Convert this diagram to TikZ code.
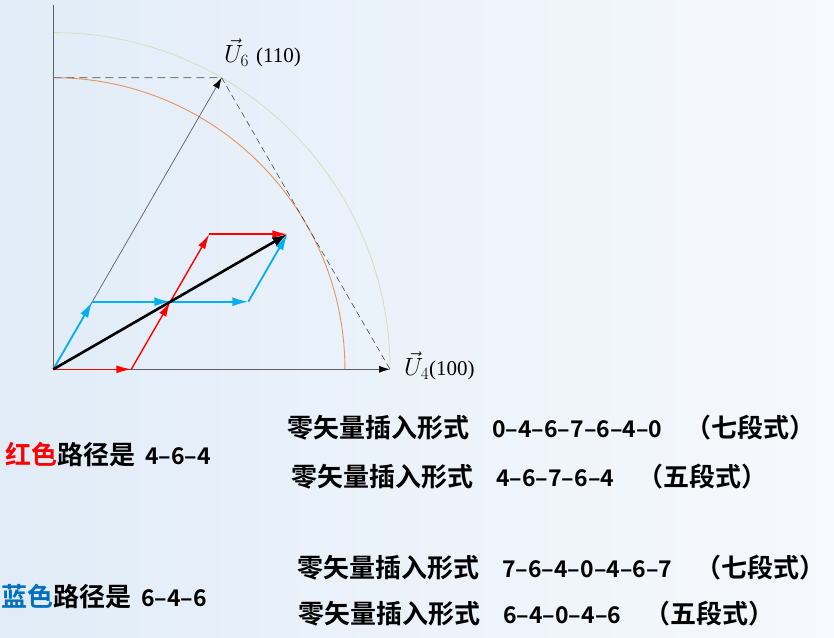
\documentclass[tikz,border=0pt]{standalone}
\usepackage{amsmath}
\usepackage{fontspec}
\usepackage{xcolor}
\usepackage{tikz}
\usetikzlibrary{arrows.meta}
\usetikzlibrary{positioning}
\newfontfamily\cjk{Noto Sans CJK SC Bold}
\newfontfamily\labfont{Liberation Serif}
\definecolor{vecred}{RGB}{255,0,0}
\definecolor{vecblue}{RGB}{0,176,240}
\definecolor{txtblue}{RGB}{0,112,192}
\definecolor{arcorange}{RGB}{230,148,95}
\definecolor{arcpale}{RGB}{214,222,190}
\definecolor{axisgray}{RGB}{95,95,95}
\definecolor{bgblue}{RGB}{225,236,248}
\definecolor{bgwhite}{RGB}{246,249,253}
\tikzstyle{redvec} = [draw=vecred,line width=1.4pt,-{Latex[length=15pt,width=8pt]}]
\tikzstyle{bluevec} = [draw=vecblue,line width=1.8pt,-{Latex[length=16pt,width=9pt]}]
\tikzstyle{sumvec} = [draw=black,line width=2.6pt,-{Latex[length=15pt,width=10pt]}]
\tikzstyle{basevec} = [draw=axisgray,line width=0.7pt,-{Latex[length=11pt,width=7pt,color=black]}]
\tikzstyle{txt} = [anchor=west,inner sep=0pt,font=\cjk\fontsize{26}{30}\selectfont]
\tikzstyle{veclab} = [anchor=base west,inner sep=0pt,font=\fontsize{23}{26}\selectfont]
\newcommand{\num}[1]{{\fontsize{23}{26}\selectfont #1}}
\newcommand{\code}[1]{{\labfont\fontsize{21}{24}\selectfont #1}}

\begin{document}
\begin{tikzpicture}[x=1pt,y=1pt]
% 背景
\shade[left color=bgblue,right color=bgwhite] (0,0) rectangle (834,637);
\useasboundingbox (0,0) rectangle (834,637);
% 基本矢量
\coordinate (O) at (53.3,267.7);
\path (O) ++(0:336.7) coordinate (U4);
\path (O) ++(60:336.7) coordinate (U6);
\path (O) ++(90:364.3) coordinate (ytop);
\path (O) ++(90:291.6) coordinate (yin);
% 合成路径上的点
\path (O) ++(0:78) coordinate (R1) ++(60:78) coordinate (M)
  ++(60:78) coordinate (R2) ++(0:78) coordinate (T);
\path (O) ++(60:78) coordinate (B1) ++(0:156) coordinate (B2);
% 圆弧
\draw[arcpale,line width=0.8pt] (U4) arc[start angle=0,end angle=90,radius=336.7];
\draw[arcorange,line width=0.9pt] (O) ++(0:291.6) arc[start angle=0,end angle=90,radius=291.6];
% 坐标轴
\draw[axisgray,line width=0.8pt] (O) -- (ytop);
\draw[basevec] (O) -- (U4);
\draw[basevec] (O) -- (U6);
\draw[gray,line width=1pt,dash pattern=on 8pt off 5pt] (yin) -- (U6);
\draw[black!80,line width=0.5pt,dash pattern=on 6pt off 4pt] (U6) -- (U4);
% 蓝色路径
\draw[bluevec] (O) -- (B1);
\draw[bluevec] (B1) -- (M);
\draw[bluevec] (M) -- (B2);
\draw[bluevec] (B2) -- (T);
% 红色路径
\draw[redvec] (O) -- (R1);
\draw[redvec] (R1) -- (M);
\draw[redvec] (M) -- (R2);
\draw[redvec] (R2) -- (T);
% 合成矢量
\draw[sumvec] (O) -- (T);
% 标注
\node[veclab] (u6lab) at (224,574) {$\vec{U}_6$\hspace{7pt}\code{(110)}};
\node[veclab] (u4lab) at (404,261) {$\vec{U}_4$\code{(100)}};
% 文字
\node[txt] (redpath) at (5,182) {\textcolor{vecred}{红色}路径是\hspace{10pt}\num{4–6–4}};
\node[txt] (redseven) at (287,209) {零矢量插入形式\hspace{23pt}\num{0–4–6–7–6–4–0}\hspace{23pt}（七段式）};
\node[txt] (redfive) at (291,160) {零矢量插入形式\hspace{23pt}\num{4–6–7–6–4}\hspace{23pt}（五段式）};
\node[txt] (bluepath) at (1,40) {\textcolor{txtblue}{蓝色}路径是\hspace{10pt}\num{6–4–6}};
\node[txt] (blueseven) at (297,69) {零矢量插入形式\hspace{23pt}\num{7–6–4–0–4–6–7}\hspace{23pt}（七段式）};
\node[txt] (bluefive) at (298,23) {零矢量插入形式\hspace{23pt}\num{6–4–0–4–6}\hspace{23pt}（五段式）};
\end{tikzpicture}
\end{document}
